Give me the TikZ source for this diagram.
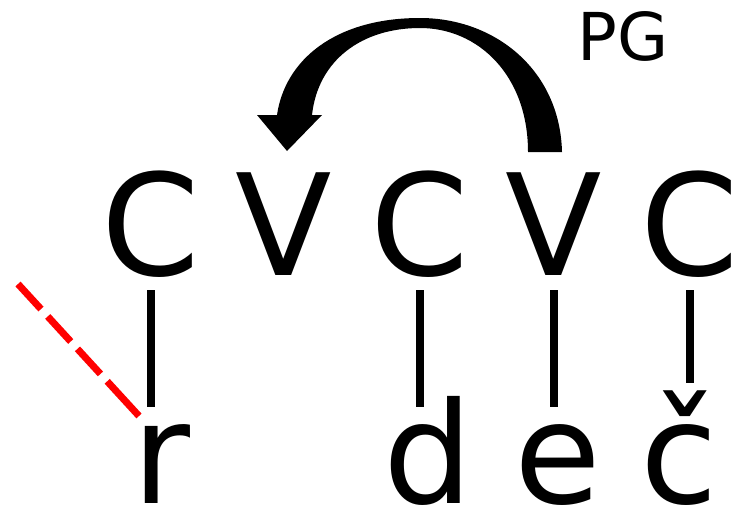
\documentclass[tikz,border=0pt]{standalone}
\usepackage{fontspec}
\setmainfont{DejaVu Sans}
\begin{document}
\begin{tikzpicture}[x=1pt,y=-1pt,
        slot/.style={inner sep=0pt,anchor=base,text depth=0pt,font=\fontsize{141}{141}\selectfont},
        seg/.style={slot,text height=78pt},
        assoc/.style={line width=8pt,shorten <=15pt,shorten >=18pt},
        delink/.style={red,line width=7pt,dash pattern=on 34pt off 10pt on 34pt off 10pt on 34pt off 10pt on 60pt off 10pt}]
        
        \def\sk{275}	 %baseline of skeleton
        \def\mel{503}	 %baseline of melody
        
        \useasboundingbox (0,0) rectangle (735,509);
        
        %SKELETON
        \foreach \l/\x/\n in {C/151/c1,V/284/v1,C/420/c2,V/554/v2,C/690/c3}{
            \node[slot] (\n) at (\x,\sk) {\l};
        } %end of skeleton loop
        
        %MELODY
        \node[seg] (r) at (161,\mel) {r};
        \node[seg] (d) at (428,\mel) {d};
        \node[seg] (e) at (558,\mel) {e};
        \node[seg] (cc) at (679,\mel) {č};
        
        %ASSOCIATION LINES
        \foreach \a/\b in {c1/r,c2/d,v2/e}{
            \draw[assoc] (\a.south)--(\a.south |- \b.north);
        } %end of line loop
        \draw[assoc,shorten >=42pt] (c3.south)--(c3.south |- cc.north);	%caron sits higher
        
        %DELINKING (dashed)
        \coordinate (cut) at (18,284);	\coordinate (cutend) at (139,416);
        \draw[delink] (cut)--(cutend);
        
        %PG ARROW
        \fill (562,152) .. controls (560,70) and (495,18) .. (420,18)
            .. controls (335,18) and (285,60) .. (277,115)
            --(257,115)--(287,151)--(322,115)--(312,115)
            .. controls (318,60) and (362,28) .. (420,28)
            .. controls (478,28) and (528,75) .. (528,152)--cycle;
        \node[anchor=base west,inner sep=0pt,font=\fontsize{66}{66}\selectfont] (pg) at (577,60) {PG};
    \end{tikzpicture}
\end{document}
